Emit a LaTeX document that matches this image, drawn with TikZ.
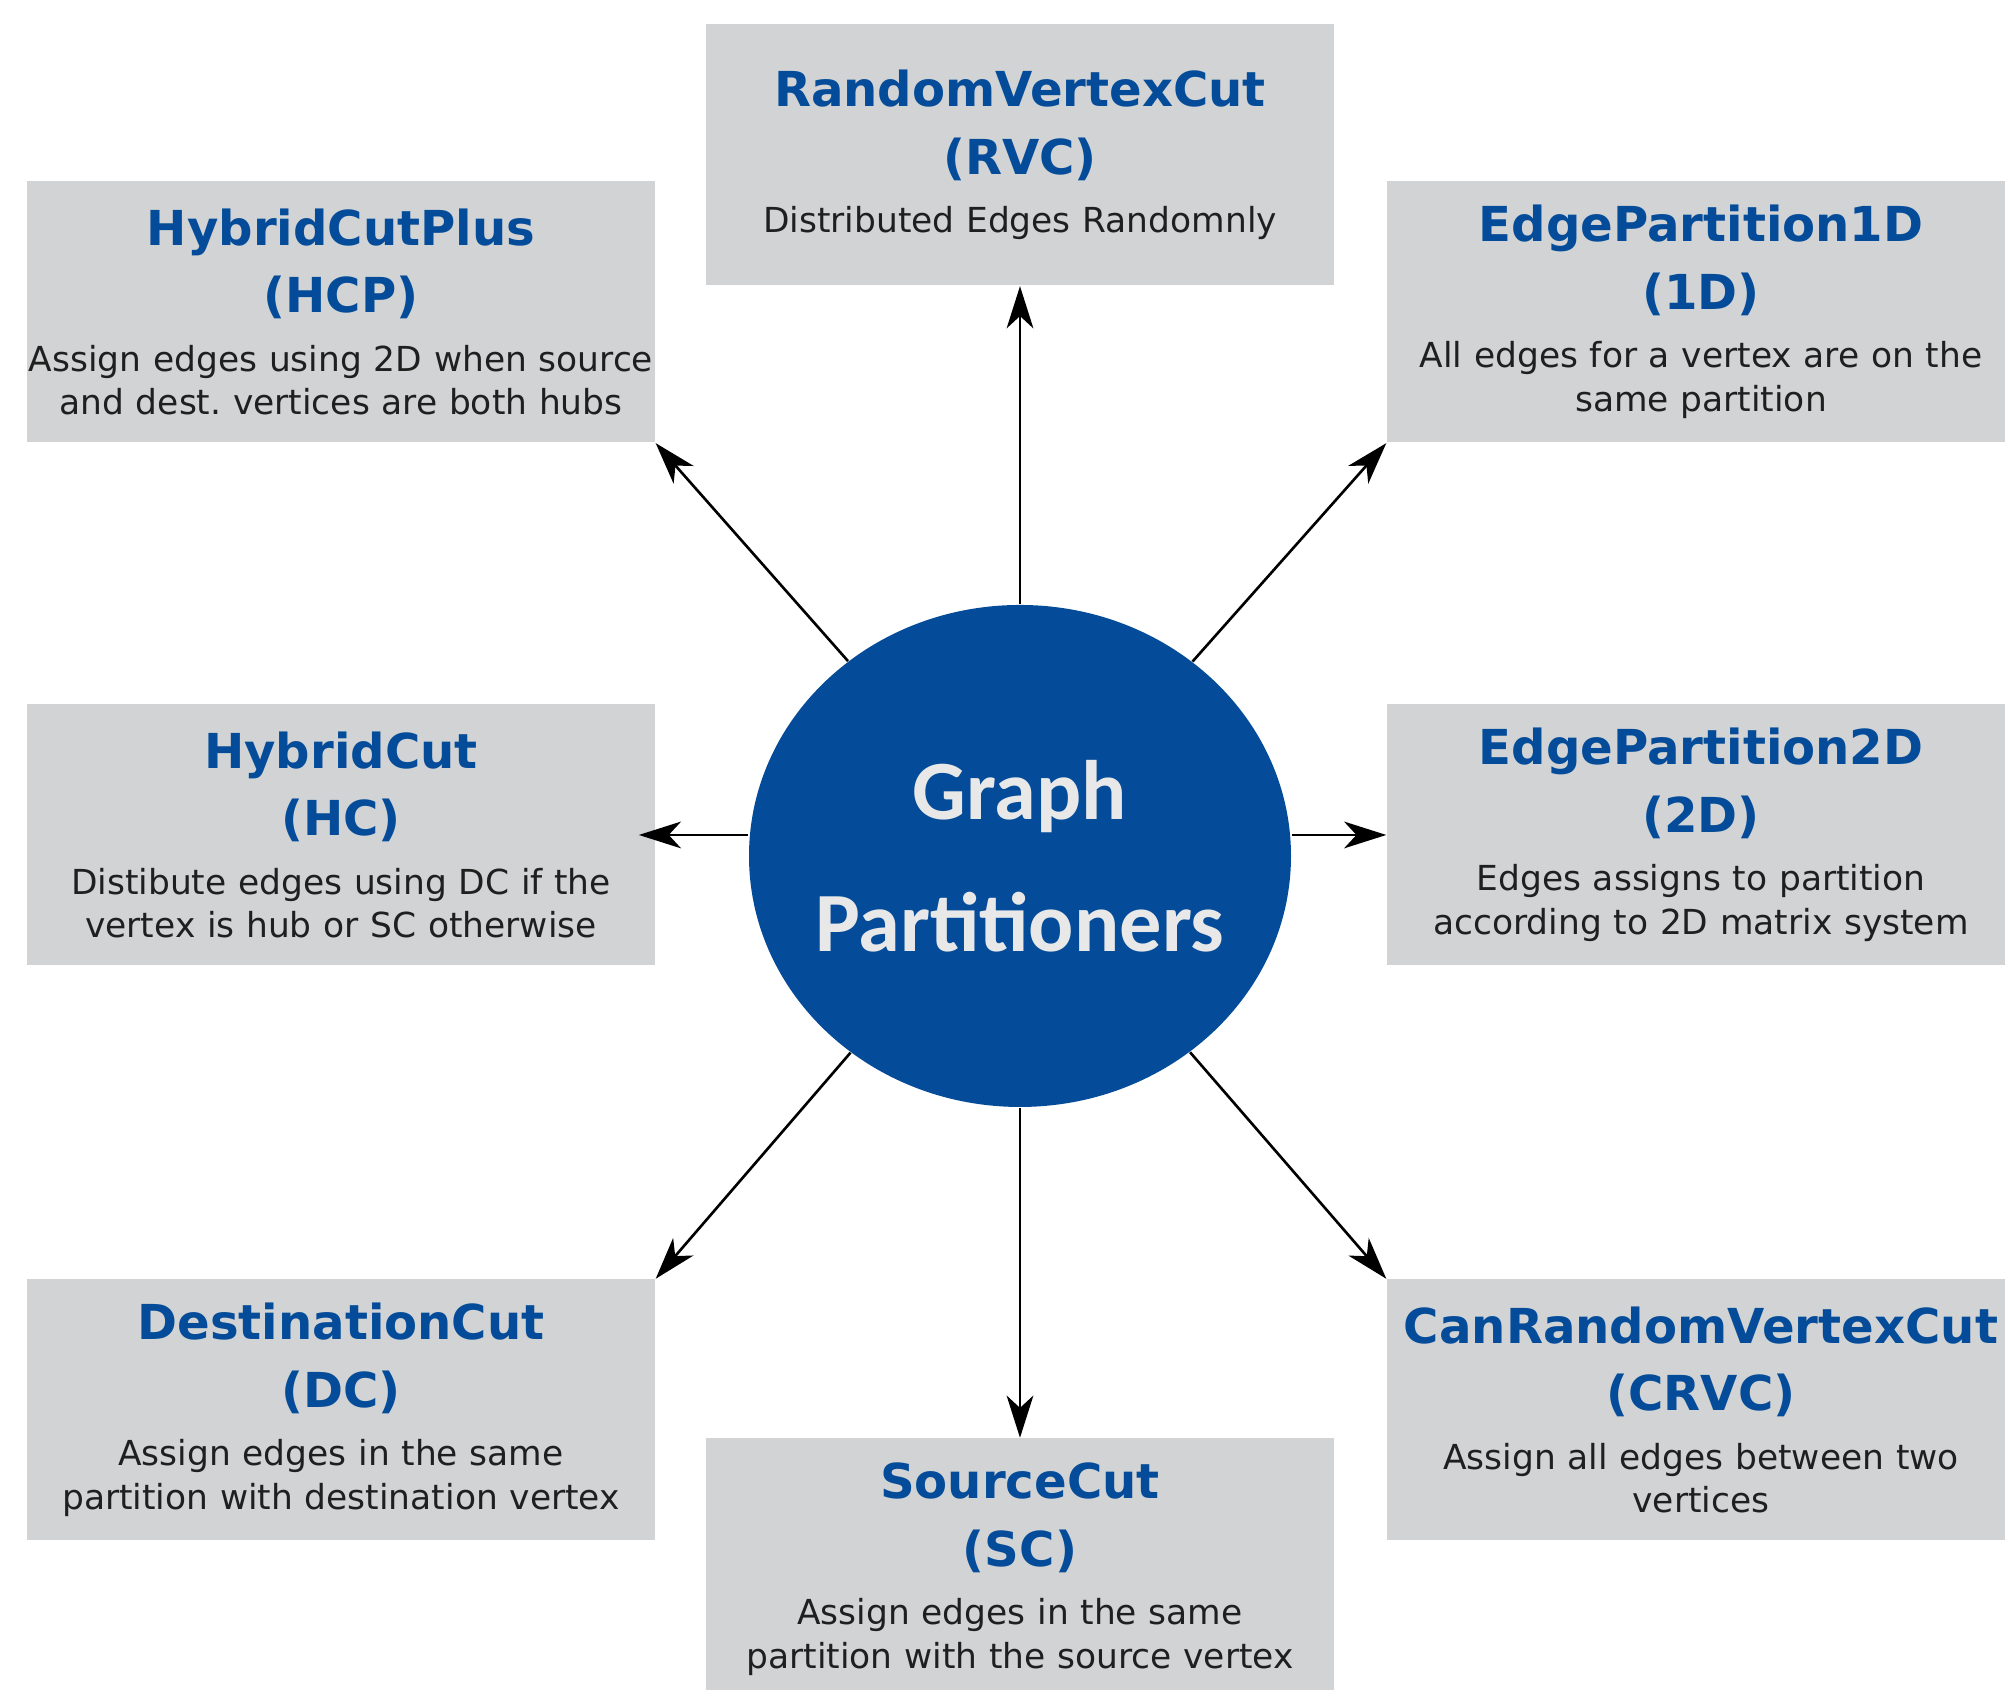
\documentclass[tikz,border=0pt]{standalone}
\usepackage{fontspec}
\usetikzlibrary{shapes.geometric,arrows.meta}

\newfontfamily\dejavu{DejaVu Sans}
\newfontfamily\carlito{Carlito}

\definecolor{partblue}{RGB}{4,76,153}
\definecolor{boxgrey}{RGB}{209,211,212}
\definecolor{hubtxt}{RGB}{232,232,232}

\newcommand\ptitle{\dejavu\bfseries\color{partblue}\fontsize{13.7}{19.3}\selectfont}
\newcommand\pdesc{\dejavu\color{black!88}\fontsize{9.8}{12.4}\selectfont}

\frenchspacing

\tikzset{
  partbox/.style={rectangle, fill=boxgrey, inner sep=0pt, text width=6.28cm,
    minimum height=2.61cm, align=center},
  hub/.style={ellipse, fill=partblue, minimum width=5.42cm, minimum height=5.02cm, inner sep=0pt},
  hubtext/.style={align=center, text=hubtxt, font=\carlito\bfseries\fontsize{24}{37.5}\selectfont},
  link/.style={line width=0.75pt, -{Stealth[length=12pt,width=7.6pt,inset=3.5pt]}}
}

\begin{document}
\begin{tikzpicture}
    \useasboundingbox (0,0) rectangle (20.05,16.90);

    % centre
    \node[hub] (gp) at (10.20,8.34) {};
    \node[hubtext] (gptext) at (gp) {Graph\\Partitioners};

    % partitioners
    \node[partbox] (rvc) at (10.20,15.35) {{\ptitle RandomVertexCut\\(RVC)\par}\vspace{4.2pt}{\pdesc Distributed Edges Randomnly\par}};
    \node[partbox] (hcp) at (3.41,13.78) {{\ptitle HybridCutPlus\\(HCP)\par}\vspace{4.2pt}{\pdesc Assign edges using 2D when source\\and dest. vertices are both hubs\par}};
    \node[partbox] (ep1) at (17.01,13.78) {{\ptitle EdgePartition1D\\(1D)\par}\vspace{4.2pt}{\pdesc All edges for a vertex are on the\\same partition\par}};
    \node[partbox] (hc) at (3.41,8.55) {{\ptitle HybridCut\\(HC)\par}\vspace{4.2pt}{\pdesc Distibute edges using DC if the\\vertex is hub or SC otherwise\par}};
    \node[partbox] (ep2) at (17.01,8.55) {{\ptitle EdgePartition2D\\(2D)\par}\vspace{4.2pt}{\pdesc Edges assigns to partition\\according to 2D matrix system\par}};
    \node[partbox] (dc) at (3.41,2.80) {{\ptitle DestinationCut\\(DC)\par}\vspace{4.2pt}{\pdesc Assign edges in the same\\partition with destination vertex\par}};
    \node[partbox] (crvc) at (17.01,2.80) {{\ptitle CanRandomVertexCut\\(CRVC)\par}\vspace{4.2pt}{\pdesc Assign all edges between two\\vertices\par}};
    \node[partbox] (sc) at (10.20,1.21) {{\ptitle SourceCut\\(SC)\par}\vspace{4.2pt}{\pdesc Assign edges in the same\\partition with the source vertex\par}};

    % arrows
    \draw[link] (gp) -- (rvc);
    \draw[link] (gp) -- (hcp.south east);
    \draw[link] (gp) -- (ep1.south west);
    \draw[link, shorten >=-4.8pt] (gp.west |- hc.east) -- (hc.east);
    \draw[link] (gp.east |- ep2.west) -- (ep2.west);
    \draw[link] (gp) -- (dc.north east);
    \draw[link] (gp) -- (crvc.north west);
    \draw[link] (gp) -- (sc);

\end{tikzpicture}
\end{document}
